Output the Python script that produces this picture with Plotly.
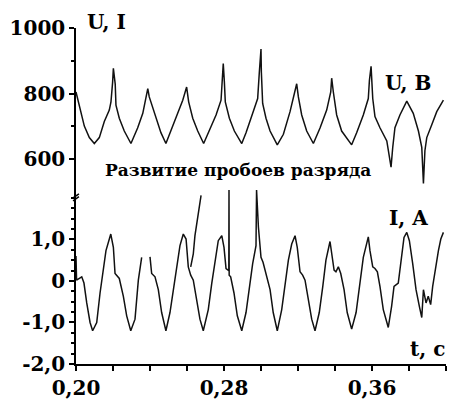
import plotly.graph_objects as go

# ---- data ----
u_t = [0.2000, 0.2018, 0.2045, 0.2072, 0.2099, 0.2126, 0.2153, 0.2180, 0.2189, 0.2198, 0.2202, 0.2212, 0.2216, 0.2234, 0.2261, 0.2297,
       0.2333, 0.2361, 0.2388, 0.2396, 0.2405, 0.2432, 0.2459, 0.2486,
       0.2514, 0.2550, 0.2577, 0.2598, 0.2609, 0.2631, 0.2658, 0.2690,
       0.2721, 0.2757, 0.2784, 0.2789, 0.2796, 0.2802, 0.2807, 0.2829, 0.2856, 0.2896,
       0.2919, 0.2955, 0.2982, 0.2991, 0.3000, 0.3002, 0.3009, 0.3027, 0.3049, 0.3088,
       0.3121, 0.3157, 0.3184, 0.3193, 0.3202, 0.3220, 0.3247, 0.3283,
       0.3319, 0.3355, 0.3377, 0.3382, 0.3391, 0.3409, 0.3436, 0.3490,
       0.3517, 0.3553, 0.3580, 0.3586, 0.3595, 0.3604, 0.3616, 0.3643, 0.3680, 0.3703, 0.3712, 0.3724,
       0.3751, 0.3788, 0.3823, 0.3851, 0.3869, 0.3878, 0.3886, 0.3896, 0.3923, 0.3950, 0.3986]
u_v = [805, 765, 701, 666, 648, 666, 715, 750, 775, 835, 877, 829, 765, 725, 686, 648,
       695, 740, 815, 790, 775, 725, 681, 648,
       690, 745, 780, 820, 775, 725, 686, 648,
       686, 735, 780, 840, 892, 835, 775, 725, 686, 648,
       681, 740, 785, 865, 936, 865, 770, 725, 686, 644,
       676, 745, 805, 830, 790, 735, 686, 648,
       695, 750, 805, 847, 805, 735, 686, 644,
       681, 735, 785, 840, 883, 785, 730, 696, 656, 576, 636, 696,
       735, 777, 740, 686, 636, 526, 626, 666, 705, 745, 780]

i_t = [0.2000, 0.2003, 0.2031, 0.2043, 0.2058, 0.2076, 0.2090, 0.2112, 0.2130, 0.2148, 0.2162, 0.2188, 0.2202, 0.2211,
       0.2234, 0.2256, 0.2274, 0.2296, 0.2319, 0.2337, 0.2355, None,
       0.2400, 0.2409, 0.2427, 0.2445, 0.2463, 0.2486,
       0.2508, 0.2526, 0.2544, 0.2562, 0.2580, 0.2595, 0.2607, 0.2620, 0.2634, 0.2652, 0.2670, 0.2688,
       0.2715, 0.2734, 0.2751, 0.2769, 0.2788, 0.2800, 0.2811, 0.2826, 0.2827, 0.2828, 0.2836, 0.2854, 0.2872, 0.2896,
       0.2919, 0.2937, 0.2955, 0.2973, 0.2976, 0.2986, 0.2991, 0.3000, 0.3011, 0.3019, 0.3031, 0.3049, 0.3066, 0.3088,
       0.3112, 0.3130, 0.3148, 0.3166, 0.3184, 0.3196, 0.3211, 0.3225, 0.3238, 0.3256, 0.3274, 0.3292,
       0.3315, 0.3334, 0.3351, 0.3373, 0.3382, 0.3395, 0.3405, 0.3418, 0.3431, 0.3449, 0.3466, 0.3490,
       0.3514, 0.3532, 0.3553, 0.3580, 0.3589, 0.3604, 0.3616, 0.3629, 0.3643, 0.3661, 0.3688,
       0.3706, 0.3719, 0.3742, 0.3761, 0.3773, 0.3788, 0.3802, 0.3820, 0.3838, 0.3856, 0.3869, 0.3878,
       0.3892, 0.3904, 0.3917, 0.3928, 0.3941, 0.3959, 0.3972, 0.3986]
i_v = [0.60, 0.02, 0.10, -0.05, -0.53, -1.00, -1.20, -1.00, -0.29, 0.34, 0.73, 1.13, 0.81, 0.18,
       0.06, -0.37, -0.84, -1.20, -0.92, 0.02, 0.57, None,
       0.58, 0.18, 0.10, -0.21, -0.76, -1.20,
       -0.76, -0.21, 0.34, 0.85, 1.13, 1.01, 0.34, 0.14, 0.02, -0.45, -0.92, -1.20,
       -0.69, -0.05, 0.50, 0.97, 1.09, 0.81, 0.30, 0.25, 2.19, 0.14, 0.10, -0.29, -0.84, -1.20,
       -0.76, -0.13, 0.42, 0.85, 2.19, 1.30, 1.01, 0.57, 0.45, 0.30, 0.14, -0.21, -0.76, -1.20,
       -0.69, -0.05, 0.50, 0.89, 1.09, 0.81, 0.22, 0.14, 0.02, -0.45, -0.92, -1.20,
       -0.76, -0.13, 0.50, 0.95, 0.65, 0.26, 0.22, 0.34, 0.18, -0.21, -0.76, -1.16,
       -0.76, -0.13, 0.57, 1.06, 0.73, 0.34, 0.30, 0.22, -0.13, -0.69, -1.12,
       -0.61, -0.13, -0.05, 0.57, 1.05, 1.17, 0.97, 0.42, -0.21, -0.61, -0.88, -0.21,
       -0.53, -0.37, -0.57, -0.13, 0.26, 0.73, 1.01, 1.17]

burst_t = [0.2620, 0.2634, 0.2643, 0.2656, 0.2666, 0.2676]
burst_v = [0.34, 0.65, 1.09, 1.44, 1.80, 2.06]

x_tickvals = [0.20, 0.28, 0.36]
x_ticktext = ["0,20", "0,28", "0,36"]
u_tickvals = [600, 800, 1000]
u_ticktext = ["600", "800", "1000"]
i_tickvals = [-2, -1, 0, 1]
i_ticktext = ["-2,0", "-1,0", "0", "1,0"]

# ---- figure ----
FONT = "DejaVu Serif"
line = dict(color="#111111", width=1.5)

fig = go.Figure()
fig.add_trace(go.Scatter(x=u_t, y=u_v, mode="lines", line=line, yaxis="y2", connectgaps=False))
fig.add_trace(go.Scatter(x=i_t, y=i_v, mode="lines", line=line, yaxis="y", connectgaps=False))
fig.add_trace(go.Scatter(x=burst_t, y=burst_v, mode="lines", line=line, yaxis="y"))

tickfont = dict(family=FONT, size=20, color="black", weight="bold")
axis_common = dict(showline=True, linecolor="black", linewidth=1.5, ticks="outside",
                   tickcolor="black", ticklen=5, tickwidth=1.5, showgrid=False, zeroline=False,
                   tickfont=tickfont)

fig.update_layout(
    width=451, height=405,
    margin=dict(l=76, r=5, t=28, b=34),
    paper_bgcolor="white", plot_bgcolor="white",
    showlegend=False,
    xaxis=dict(range=[0.2, 0.4], tickvals=x_tickvals, ticktext=x_ticktext,
               minor=dict(dtick=0.02, tick0=0.2, ticks="outside", ticklen=5, tickcolor="black", tickwidth=1.5),
               **axis_common),
    yaxis=dict(domain=[0, 0.519], range=[-2, 2.2], tickvals=i_tickvals, ticktext=i_ticktext,
               minor=dict(dtick=0.25, tick0=0, ticks="outside", ticklen=3, tickcolor="black", tickwidth=1.5),
               **axis_common),
    yaxis2=dict(domain=[0.519, 1], range=[507.5, 1000], tickvals=u_tickvals, ticktext=u_ticktext,
                minor=dict(dtick=100, tick0=0, ticks="outside", ticklen=3, tickcolor="black", tickwidth=1.5),
                anchor="x", **axis_common),
)

lab = dict(family=FONT, size=20, color="black", weight="bold")
fig.add_annotation(text="U, I", xref="paper", yref="paper", x=0.024, y=1.017,
                   xanchor="left", yanchor="middle", showarrow=False, font=lab)
fig.add_annotation(text="U, B", xref="paper", yref="paper", x=0.83, y=0.835,
                   xanchor="left", yanchor="middle", showarrow=False, font=lab)
fig.add_annotation(text="I, A", xref="paper", yref="paper", x=0.84, y=0.436,
                   xanchor="left", yanchor="middle", showarrow=False, font=lab)
fig.add_annotation(text="t, c", xref="paper", yref="paper", x=1.003, y=0.045,
                   xanchor="right", yanchor="middle", showarrow=False, font=lab)
fig.add_annotation(text="Развитие пробоев разряда", xref="paper", yref="paper", x=0.438, y=0.577,
                   xanchor="center", yanchor="middle", showarrow=False,
                   font=dict(family=FONT, size=17, color="black", weight="bold"))

# axis-break mark
fig.add_shape(type="line", xref="paper", yref="y", x0=-0.008, x1=0.008, y0=1.93, y1=2.03,
              line=dict(color="black", width=1.5))
fig.add_shape(type="line", xref="paper", yref="y", x0=-0.008, x1=0.008, y0=2.0, y1=2.1,
              line=dict(color="black", width=1.5))

fig.write_html("out.html")
